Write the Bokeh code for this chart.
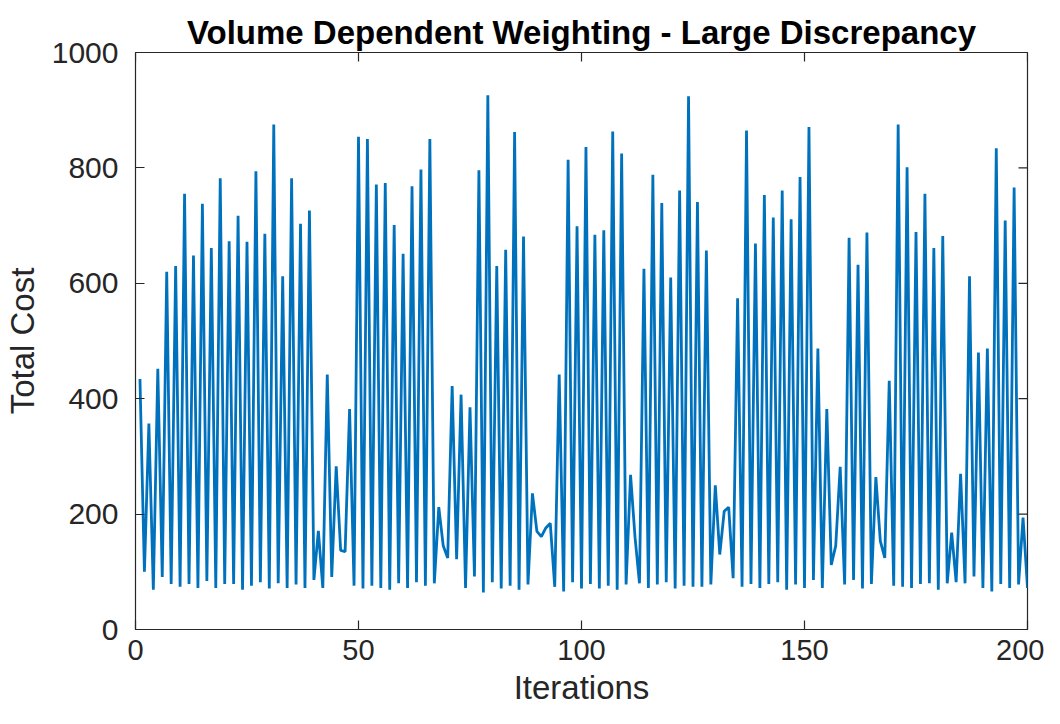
import math
from bokeh.plotting import figure
from bokeh.models import Range1d, FixedTicker
from bokeh.embed import file_html
from bokeh.resources import INLINE

iterations = list(range(1, 201))
total_cost = [
    434, 100, 357, 69, 452, 91, 620, 79, 630, 74,
    755, 79, 648, 72, 738, 84, 661, 72, 782, 79,
    673, 79, 717, 69, 672, 76, 794, 82, 686, 71,
    875, 80, 612, 72, 782, 78, 703, 72, 726, 86,
    171, 72, 442, 91, 283, 137, 135, 382, 76, 854,
    71, 850, 76, 771, 72, 774, 69, 701, 80, 651,
    72, 768, 82, 797, 76, 850, 80, 212, 145, 124,
    422, 122, 407, 72, 385, 92, 796, 64, 926, 82,
    630, 71, 658, 76, 862, 69, 681, 78, 236, 170,
    161, 176, 184, 74, 442, 66, 814, 82, 699, 71,
    836, 79, 684, 71, 692, 76, 863, 69, 825, 78,
    268, 160, 80, 625, 72, 788, 78, 739, 82, 610,
    71, 761, 76, 924, 74, 741, 74, 657, 78, 250,
    130, 205, 212, 89, 574, 74, 865, 79, 669, 72,
    753, 79, 714, 82, 761, 69, 711, 78, 784, 72,
    871, 86, 487, 72, 382, 112, 145, 282, 78, 679,
    86, 632, 71, 688, 79, 264, 153, 124, 431, 76,
    875, 74, 801, 72, 689, 79, 755, 80, 661, 69,
    682, 80, 168, 82, 270, 80, 612, 92, 480, 72,
    487, 66, 834, 79, 709, 72, 766, 78, 194, 72,
]
x_ticks = [0, 50, 100, 150, 200]
y_ticks = [0, 200, 400, 600, 800, 1000]
x_min, x_max = 0, 200
y_min, y_max = 0, 1000

FONT = "Liberation Sans"
AX = "#262626"

p = figure(width=1044, height=716, output_backend="svg", toolbar_location=None,
           x_range=Range1d(x_min, x_max), y_range=Range1d(y_min, y_max),
           min_border_left=135, min_border_right=17, min_border_top=52, min_border_bottom=87,
           title="Volume Dependent Weighting - Large Discrepancy")

p.title.align = "center"
p.title.text_font = FONT
p.title.text_font_size = "33px"
p.title.text_font_style = "bold"
p.title.text_color = "black"
p.title.standoff = 4

p.line(iterations, total_cost, line_color="#0072BD", line_width=2.8)

# tick marks on the top and right edges of the box (inner half of a dash shows)
p.scatter(x_ticks, [y_max] * len(x_ticks), marker="dash", size=18, angle=math.pi / 2,
          line_color=AX, line_width=1.2)
p.scatter([x_max] * len(y_ticks), y_ticks, marker="dash", size=18, angle=0,
          line_color=AX, line_width=1.2)

p.xgrid.visible = False
p.ygrid.visible = False
p.outline_line_color = AX
p.outline_line_width = 1.2
p.background_fill_color = "white"
p.border_fill_color = "white"

for ax, ticks in ((p.xaxis[0], x_ticks), (p.yaxis[0], y_ticks)):
    ax.ticker = FixedTicker(ticks=ticks)
    ax.minor_tick_line_color = None
    ax.major_tick_in = 9
    ax.major_tick_out = 0
    ax.major_tick_line_color = AX
    ax.major_tick_line_width = 1.2
    ax.axis_line_color = None
    ax.major_label_text_font = FONT
    ax.major_label_text_color = AX
    ax.axis_label_text_font = FONT
    ax.axis_label_text_font_style = "normal"
    ax.axis_label_text_color = AX

p.xaxis[0].major_label_text_font_size = "29px"
p.yaxis[0].major_label_text_font_size = "30px"
p.xaxis[0].major_label_standoff = 10
p.yaxis[0].major_label_standoff = 17

p.xaxis[0].axis_label = "Iterations"
p.yaxis[0].axis_label = "Total Cost"
p.xaxis[0].axis_label_text_font_size = "33px"
p.yaxis[0].axis_label_text_font_size = "33px"
p.xaxis[0].axis_label_standoff = 6
p.yaxis[0].axis_label_standoff = 8

open("out.html", "w").write(file_html(p, INLINE))
